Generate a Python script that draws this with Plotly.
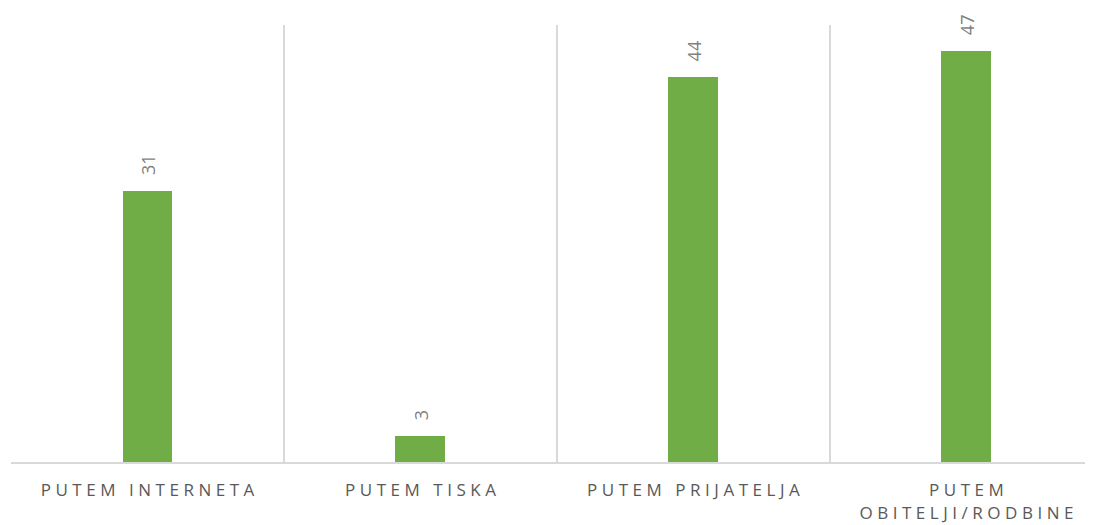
import plotly.graph_objects as go

categories = ["PUTEM INTERNETA", "PUTEM TISKA", "PUTEM PRIJATELJA", "PUTEM<br>OBITELJI/RODBINE"]
values = [31, 3, 44, 47]

LS = "\u2009\u200a"  # thin + hair space used for letter spacing


def spaced(s):
    parts = s.split("<br>")
    out = []
    for p in parts:
        words = p.split(" ")
        out.append((LS + " " + LS).join(LS.join(list(w)) for w in words))
    return "<br>".join(out)


tick_text = [spaced(c) for c in categories]

fig = go.Figure()
fig.add_trace(go.Bar(
    x=categories, y=values,
    marker=dict(color="#70AD47", line=dict(width=0)),
    width=0.183,
    hoverinfo="skip",
))

for c, v in zip(categories, values):
    fig.add_annotation(
        x=c, y=v, text=str(v), textangle=-90, showarrow=False,
        yanchor="bottom", yshift=14,
        font=dict(family="Open Sans", size=18, color="#7f7f7f"),
    )

fig.update_layout(
    width=1093, height=525,
    margin=dict(l=3, r=0, t=17, b=71),
    paper_bgcolor="white", plot_bgcolor="white",
    showlegend=False,
    bargap=0,
    xaxis=dict(
        type="category",
        range=[-0.5, 3.493],
        tickson="boundaries",
        showgrid=True, gridcolor="#d9d9d9", gridwidth=1.5,
        showline=True, linecolor="#d9d9d9", linewidth=2,
        ticks="", tickvals=categories, ticktext=tick_text,
        tickfont=dict(family="Open Sans", size=17, color="#595959"),
        tickangle=0,
        ticklabelstandoff=12,
        automargin=False,
        fixedrange=True,
    ),
    yaxis=dict(
        range=[0, 50], visible=False, showgrid=False, zeroline=False,
    ),
)

fig.write_html("out.html")
